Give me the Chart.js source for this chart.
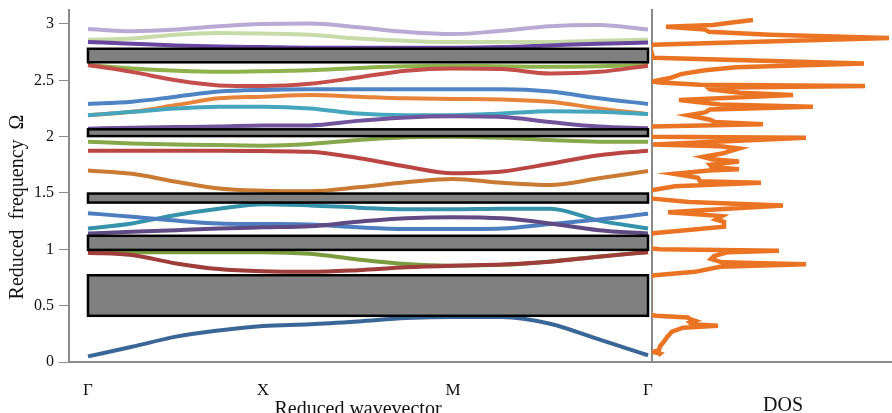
<!DOCTYPE html>
<html><head><meta charset="utf-8">
<script src="https://cdn.jsdelivr.net/npm/chart.js@4.4.1/dist/chart.umd.min.js"></script>
<style>
html,body{margin:0;padding:0;background:#fff;}
#wrap{position:relative;width:892px;height:413px;overflow:hidden;background:#fff;}
canvas{position:absolute;left:0;top:0;}
</style></head><body>
<div id="wrap"><canvas id="bands" width="892" height="413"></canvas><canvas id="dos" width="892" height="413"></canvas></div>
<script>
// ---- data ----
const kPoints = [0, 0.0786, 0.1571, 0.2339, 0.3125, 0.3964, 0.4821, 0.5679, 0.6518, 0.7393, 0.8250, 0.9125, 1];
const kTickValues = [0, 0.3125, 0.6518, 1];
const kTickLabels = ['Γ', 'X', 'M', 'Γ'];
const freqTicks = [0, 0.5, 1, 1.5, 2, 2.5, 3];

const band01 = [0.05, 0.135, 0.225, 0.28, 0.32, 0.335, 0.36, 0.39, 0.40, 0.40, 0.34, 0.20, 0.06];
const band02 = [0.97, 0.95, 0.875, 0.825, 0.805, 0.80, 0.815, 0.84, 0.855, 0.865, 0.89, 0.935, 0.975];
const band03 = [0.975, 0.975, 0.975, 0.975, 0.975, 0.96, 0.91, 0.87, 0.855, 0.862, 0.892, 0.937, 0.977];
const band04 = [1.14, 1.155, 1.17, 1.185, 1.195, 1.205, 1.245, 1.275, 1.285, 1.275, 1.23, 1.17, 1.14];
const band05 = [1.32, 1.29, 1.255, 1.23, 1.225, 1.22, 1.195, 1.18, 1.18, 1.185, 1.225, 1.265, 1.315];
const band06 = [1.185, 1.23, 1.305, 1.36, 1.40, 1.39, 1.37, 1.355, 1.355, 1.36, 1.36, 1.255, 1.185];
const band07 = [1.70, 1.67, 1.60, 1.54, 1.52, 1.515, 1.55, 1.595, 1.625, 1.59, 1.57, 1.63, 1.695];
const band08 = [1.875, 1.875, 1.875, 1.875, 1.872, 1.865, 1.81, 1.735, 1.675, 1.69, 1.76, 1.835, 1.875];
const band09 = [1.955, 1.94, 1.93, 1.925, 1.92, 1.935, 1.97, 1.995, 2.0, 1.99, 1.97, 1.955, 1.955];
const band10 = [2.07, 2.08, 2.085, 2.09, 2.10, 2.10, 2.14, 2.17, 2.18, 2.175, 2.13, 2.09, 2.075];
const band11 = [2.19, 2.22, 2.25, 2.265, 2.265, 2.25, 2.205, 2.19, 2.19, 2.205, 2.225, 2.22, 2.20];
const band12 = [2.19, 2.22, 2.28, 2.34, 2.355, 2.37, 2.355, 2.34, 2.335, 2.33, 2.31, 2.25, 2.20];
const band13 = [2.29, 2.31, 2.355, 2.40, 2.415, 2.42, 2.42, 2.42, 2.42, 2.42, 2.40, 2.34, 2.29];
const band14 = [2.635, 2.575, 2.50, 2.455, 2.45, 2.47, 2.525, 2.585, 2.605, 2.60, 2.56, 2.575, 2.63];
const band15 = [2.635, 2.605, 2.585, 2.575, 2.58, 2.59, 2.61, 2.625, 2.63, 2.625, 2.62, 2.625, 2.635];
const band16 = [2.84, 2.825, 2.81, 2.80, 2.795, 2.79, 2.79, 2.79, 2.79, 2.795, 2.81, 2.825, 2.835];
const band17 = [2.86, 2.87, 2.905, 2.92, 2.915, 2.905, 2.87, 2.85, 2.84, 2.84, 2.84, 2.85, 2.86];
const band18 = [2.955, 2.935, 2.95, 2.98, 3.0, 3.005, 2.97, 2.93, 2.91, 2.94, 2.98, 2.99, 2.95];

const gapBottom = [0.41, 0.995, 1.415, 2.005, 2.66];
const gapTop    = [0.77, 1.12, 1.495, 2.065, 2.78];

const dosFreq = [0.06, 0.075, 0.09, 0.105, 0.14, 0.17, 0.22, 0.27, 0.305, 0.322, 0.335, 0.35, 0.365, 0.38, 0.395, 0.41, 0.42,
  0.76, 0.77, 0.80, 0.845, 0.867, 0.885, 0.915, 0.94, 0.975, 0.988, 1.0, 1.01,
  1.13, 1.142, 1.20, 1.245, 1.265, 1.295, 1.33, 1.39, 1.42, 1.45, 1.46,
  1.515, 1.527, 1.56, 1.59, 1.605, 1.635, 1.67, 1.70, 1.71, 1.73, 1.75, 1.78, 1.80, 1.82, 1.85, 1.895, 1.915, 1.93, 1.99, 2.0, 2.005,
  2.07, 2.09, 2.11, 2.13, 2.15, 2.19, 2.215, 2.24, 2.265, 2.285, 2.325, 2.37, 2.39, 2.42, 2.435, 2.45, 2.46, 2.48, 2.49,
  2.52, 2.555, 2.59, 2.615, 2.65, 2.70, 2.80, 2.815, 2.875, 2.905, 2.93, 2.95, 2.975, 2.99, 3.01, 3.035];
const dosValue = [8, 10, 3, 9, 10, 13, 17, 22, 33, 68, 42, 40, 45, 40, 38, 6, 0,
  0, 5, 45, 70, 156, 72, 61, 64, 78, 129, 10, 0,
  0, 3, 74, 74, 66, 72, 18, 133, 39, 3, 0,
  0, 3, 25, 111, 50, 48, 24, 59, 89, 62, 60, 89, 62, 53, 72, 89, 70, 3, 156, 2, 0,
  0, 2, 113, 65, 60, 38, 55, 60, 163, 70, 29, 143, 90, 60, 58, 215, 50, 10, 2,
  20, 31, 55, 86, 214, 3, 0, 3, 239, 120, 59, 55, 16, 63, 80, 103];

// ---- styles ----
const bandColors = ['#3b6698', '#9e3d3a', '#7a9b3e', '#604a84', '#4e7ebf', '#3592aa', '#c97a33', '#b94643', '#86a84a',
  '#72549c', '#45a6be', '#e8843a', '#4f84c4', '#c44e4b', '#8db34a', '#6846a0', '#c6dba8', '#baa9d4'];
const bands = [band01, band02, band03, band04, band05, band06, band07, band08, band09, band10, band11, band12, band13, band14, band15, band16, band17, band18];
const serif = '"Liberation Serif", "Times New Roman", serif';
const axisGray = '#8a8a8a';
const freqMax = 3.124;

const gapPlugin = {
  id: 'gaps',
  afterDatasetsDraw(chart) {
    const {ctx, scales: {x, y}} = chart;
    const x0 = x.getPixelForValue(kTickValues[0]);
    const x1 = x.getPixelForValue(kTickValues[kTickValues.length - 1]);
    ctx.save();
    ctx.fillStyle = '#808080';
    ctx.strokeStyle = '#000';
    ctx.lineWidth = 2.5;
    gapBottom.forEach((b, i) => {
      const yt = y.getPixelForValue(gapTop[i]);
      const yb = y.getPixelForValue(b);
      ctx.fillRect(x0, yt, x1 - x0, yb - yt);
      ctx.strokeRect(x0, yt, x1 - x0, yb - yt);
    });
    ctx.restore();
  }
};

const titlePlugin = {
  id: 'titles',
  afterDraw(chart, args, opts) {
    const ctx = chart.ctx;
    ctx.save();
    ctx.fillStyle = '#111';
    ctx.font = '20px ' + serif;
    ctx.textAlign = 'center';
    (opts.items || []).forEach(t => {
      ctx.save();
      ctx.translate(t.x, t.y);
      if (t.rotate) ctx.rotate(t.rotate);
      ctx.textBaseline = t.baseline || 'alphabetic';
      ctx.fillText(t.text, 0, 0);
      ctx.restore();
    });
    ctx.restore();
  }
};

Chart.defaults.font.family = serif;
Chart.defaults.color = '#111';

new Chart(document.getElementById('bands'), {
  type: 'scatter',
  data: {
    datasets: bands.map((b, i) => ({
      data: b.map((v, j) => ({x: kPoints[j], y: v})),
      showLine: true,
      borderColor: bandColors[i],
      backgroundColor: bandColors[i],
      borderWidth: 4,
      pointRadius: 0,
      tension: 0.4,
      cubicInterpolationMode: 'monotone'
    }))
  },
  options: {
    responsive: false,
    animation: false,
    events: [],
    layout: {padding: {top: 10, right: 240, bottom: 0, left: 0}},
    plugins: {
      legend: {display: false},
      tooltip: {enabled: false},
      titles: {items: [
        {text: 'Reduced wavevector', x: 358, y: 415},
        {text: 'Reduced  frequency  Ω', x: 18, y: 207, rotate: -Math.PI / 2, baseline: 'middle'}
      ]}
    },
    scales: {
      x: {
        type: 'linear',
        min: -0.0339,
        max: 1.0071,
        afterFit: s => { s.height = 51; s.paddingLeft = 0; s.paddingRight = 0; },
        afterBuildTicks: s => { s.ticks = kTickValues.map(v => ({value: v})); },
        ticks: {
          callback: (v, i) => kTickLabels[i],
          autoSkip: false, maxRotation: 0,
          padding: 10,
          font: {size: 17, family: serif},
          color: '#111'
        },
        grid: {display: false},
        border: {display: true, color: axisGray, width: 2}
      },
      y: {
        type: 'linear',
        min: 0,
        max: freqMax,
        afterFit: s => { s.width = 69; s.paddingTop = 0; s.paddingBottom = 0; },
        afterBuildTicks: s => { s.ticks = freqTicks.map(v => ({value: v})); },
        ticks: {
          callback: v => String(v),
          padding: 5,
          font: {size: 16, family: serif},
          color: '#111'
        },
        grid: {display: true, drawOnChartArea: false, drawTicks: true, tickLength: 10, color: axisGray, tickColor: axisGray, lineWidth: 1},
        border: {display: true, color: axisGray, width: 2}
      }
    }
  },
  plugins: [gapPlugin, titlePlugin]
});

new Chart(document.getElementById('dos'), {
  type: 'scatter',
  data: {
    datasets: [{
      data: dosFreq.map((f, i) => ({x: dosValue[i], y: f})),
      showLine: true,
      borderColor: '#ea7424',
      backgroundColor: '#ea7424',
      borderWidth: 4.5,
      pointRadius: 0,
      tension: 0,
      clip: {left: 0, top: false, right: false, bottom: false}
    }]
  },
  options: {
    responsive: false,
    animation: false,
    events: [],
    layout: {padding: {top: 10, right: 0, bottom: 0, left: 644}},
    plugins: {
      legend: {display: false},
      tooltip: {enabled: false},
      titles: {items: [{text: 'DOS', x: 783, y: 411}]}
    },
    scales: {
      x: {
        type: 'linear',
        min: 2,
        max: 242,
        afterFit: s => { s.height = 51; s.paddingLeft = 0; s.paddingRight = 0; },
        ticks: {display: false},
        grid: {display: false},
        border: {display: true, color: axisGray, width: 2}
      },
      y: {
        type: 'linear',
        min: 0,
        max: freqMax,
        z: 1,
        afterFit: s => { s.width = 8; s.paddingTop = 0; s.paddingBottom = 0; },
        ticks: {display: false},
        grid: {display: false},
        border: {display: true, color: axisGray, width: 2}
      }
    }
  },
  plugins: [titlePlugin]
});
</script>
</body></html>
